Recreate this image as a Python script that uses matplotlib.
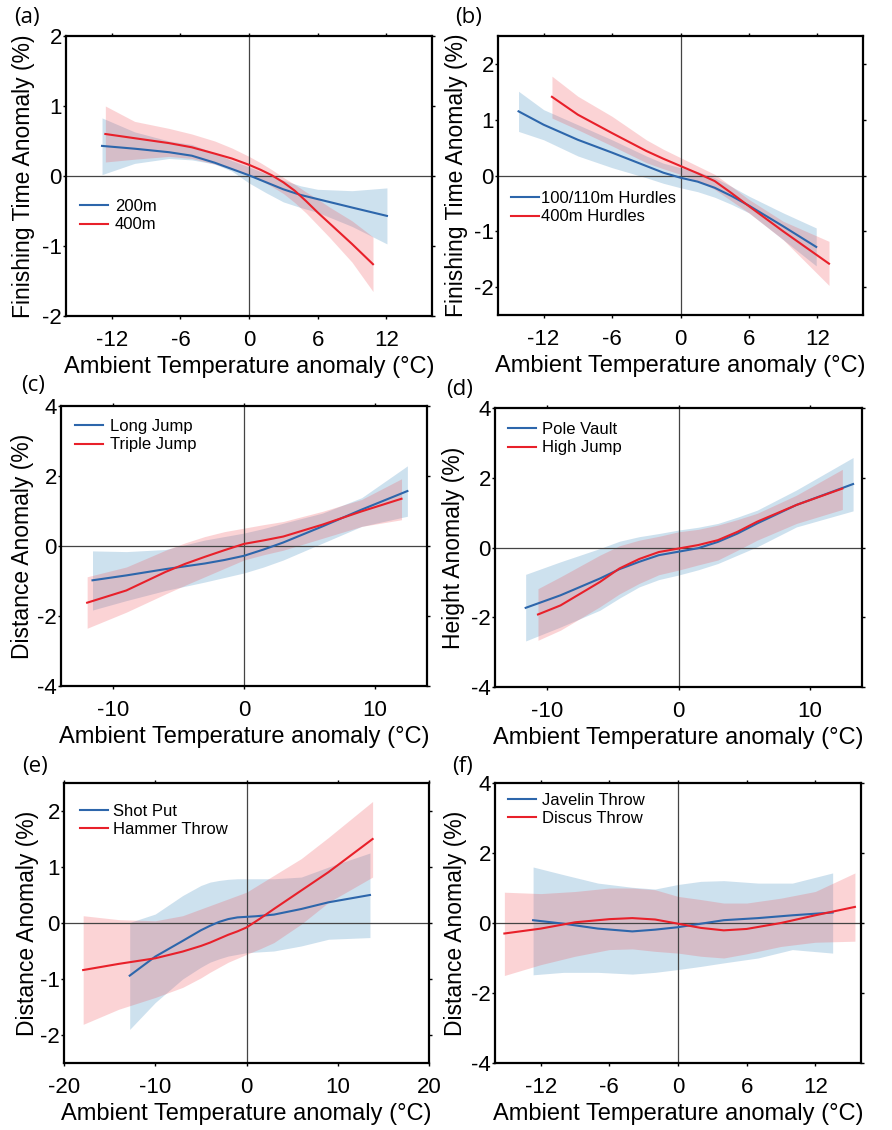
import numpy as np
import matplotlib.pyplot as plt

plt.rcParams['font.family'] = ['Liberation Sans', 'DejaVu Sans']
plt.rcParams['axes.unicode_minus'] = False

BLUE = '#2d66ab'
RED = '#e8202a'
BLUE_FILL = '#1f77b4'
RED_FILL = '#f0525a'

# (a) sprint
a_x1 = [-12.85, -10, -7, -5, -3, -1.5, 0, 1.5, 3, 4.5, 6, 9, 12.06]
a_y1 = [0.43, 0.39, 0.34, 0.29, 0.19, 0.10, 0.01, -0.09, -0.19, -0.27, -0.33, -0.45, -0.57]
a_lo1 = [0.02, 0.18, 0.25, 0.23, 0.17, 0.07, -0.10, -0.24, -0.37, -0.45, -0.52, -0.72, -0.97]
a_hi1 = [0.83, 0.63, 0.50, 0.45, 0.33, 0.22, 0.13, 0.03, -0.06, -0.14, -0.19, -0.21, -0.17]
a_x2 = [-12.56, -10, -7, -5, -3, -1.5, 0, 1, 2, 3, 4, 5, 6, 7, 8, 9, 10.84]
a_y2 = [0.60, 0.54, 0.47, 0.41, 0.32, 0.25, 0.16, 0.09, 0.01, -0.09, -0.21, -0.36, -0.52, -0.67, -0.82, -0.97, -1.26]
a_lo2 = [0.20, 0.24, 0.28, 0.25, 0.17, 0.10, 0.02, -0.06, -0.15, -0.25, -0.38, -0.53, -0.70, -0.87, -1.05, -1.23, -1.65]
a_hi2 = [1.00, 0.78, 0.68, 0.60, 0.50, 0.40, 0.28, 0.19, 0.09, -0.02, -0.12, -0.23, -0.33, -0.44, -0.54, -0.64, -0.87]

# (b) hurdles
b_x1 = [-14.2, -12, -9, -6, -3, -1.5, 0, 1.5, 3, 4.5, 6, 9, 11.9]
b_y1 = [1.15, 0.91, 0.64, 0.41, 0.17, 0.05, -0.04, -0.11, -0.22, -0.37, -0.54, -0.91, -1.28]
b_lo1 = [0.79, 0.64, 0.35, 0.14, -0.04, -0.14, -0.22, -0.29, -0.39, -0.52, -0.67, -1.15, -1.62]
b_hi1 = [1.51, 1.18, 0.91, 0.64, 0.35, 0.22, 0.14, 0.07, -0.04, -0.20, -0.37, -0.67, -0.94]
b_x2 = [-11.27, -9, -6, -3, -1.5, 0, 1.5, 3, 4.5, 6, 9, 13.02]
b_y2 = [1.41, 1.09, 0.76, 0.44, 0.30, 0.17, 0.04, -0.10, -0.32, -0.55, -1.00, -1.58]
b_lo2 = [1.03, 0.82, 0.53, 0.23, 0.12, 0.02, -0.10, -0.25, -0.46, -0.67, -1.15, -1.97]
b_hi2 = [1.78, 1.42, 1.06, 0.64, 0.47, 0.32, 0.17, 0.02, -0.20, -0.43, -0.82, -1.18]

# (c) horizontal jumps
c_x1 = [-11.59, -9, -6, -3, -1.5, 0, 1.5, 3, 6, 9, 12.5]
c_y1 = [-0.98, -0.84, -0.66, -0.50, -0.40, -0.28, -0.10, 0.10, 0.56, 1.04, 1.57]
c_lo1 = [-1.83, -1.56, -1.27, -1.03, -0.90, -0.77, -0.60, -0.40, 0.08, 0.56, 0.85]
c_hi1 = [-0.14, -0.16, -0.10, 0.17, 0.27, 0.37, 0.50, 0.65, 0.94, 1.38, 2.29]
c_x2 = [-12.0, -9, -6, -4.5, -3, -1.5, 0, 1.5, 3, 6, 9, 12.05]
c_y2 = [-1.62, -1.27, -0.74, -0.51, -0.31, -0.12, 0.06, 0.16, 0.27, 0.61, 0.99, 1.35]
c_lo2 = [-2.35, -1.89, -1.37, -1.12, -0.88, -0.64, -0.40, -0.25, -0.12, 0.22, 0.56, 0.75]
c_hi2 = [-0.88, -0.60, -0.12, 0.09, 0.27, 0.41, 0.51, 0.61, 0.70, 0.99, 1.33, 1.92]

# (d) vertical jumps
d_x1 = [-11.66, -9, -6, -4.5, -3, -1.5, 0, 1.5, 3, 4.5, 6, 9, 13.32]
d_y1 = [-1.73, -1.37, -0.89, -0.62, -0.41, -0.22, -0.12, -0.02, 0.16, 0.40, 0.69, 1.22, 1.82]
d_lo1 = [-2.68, -2.28, -1.80, -1.45, -1.13, -0.92, -0.79, -0.64, -0.46, -0.22, 0.02, 0.59, 1.05]
d_hi1 = [-0.77, -0.41, -0.03, 0.18, 0.31, 0.40, 0.50, 0.58, 0.69, 0.87, 1.07, 1.65, 2.58]
d_x2 = [-10.72, -9, -6, -4.5, -3, -1.5, 0, 1.5, 3, 4.5, 6, 9, 12.5]
d_y2 = [-1.92, -1.66, -0.99, -0.60, -0.33, -0.13, -0.03, 0.07, 0.21, 0.45, 0.74, 1.22, 1.69]
d_lo2 = [-2.66, -2.37, -1.70, -1.33, -1.03, -0.78, -0.65, -0.50, -0.36, -0.08, 0.21, 0.69, 1.09]
d_hi2 = [-1.18, -0.84, -0.22, 0.05, 0.21, 0.32, 0.45, 0.52, 0.64, 0.80, 0.98, 1.50, 2.24]

# (e) shot put / hammer
e_x1 = [-12.8, -10, -7, -5, -4, -3, -2, -1, 0, 1, 3, 6, 9, 13.53]
e_y1 = [-0.94, -0.60, -0.32, -0.13, -0.05, 0.02, 0.07, 0.10, 0.11, 0.12, 0.15, 0.25, 0.37, 0.50]
e_lo1 = [-1.90, -1.42, -1.00, -0.79, -0.70, -0.64, -0.59, -0.56, -0.53, -0.52, -0.50, -0.41, -0.29, -0.26]
e_hi1 = [0.01, 0.16, 0.49, 0.67, 0.73, 0.76, 0.78, 0.79, 0.79, 0.79, 0.79, 0.82, 1.00, 1.25]
e_x2 = [-17.9, -14, -10, -7, -5, -4, -3, -2, -1, 0, 1.5, 3, 6, 9, 13.82]
e_y2 = [-0.84, -0.73, -0.63, -0.51, -0.41, -0.35, -0.28, -0.21, -0.15, -0.08, 0.08, 0.25, 0.58, 0.91, 1.50]
e_lo2 = [-1.81, -1.54, -1.33, -1.15, -0.98, -0.88, -0.79, -0.70, -0.63, -0.56, -0.46, -0.35, -0.02, 0.37, 0.82]
e_hi2 = [0.13, 0.06, 0.04, 0.13, 0.25, 0.31, 0.37, 0.43, 0.49, 0.55, 0.70, 0.85, 1.15, 1.53, 2.17]

# (f) javelin / discus
f_x1 = [-12.67, -10, -7, -4, -2, 0, 2, 4, 7, 10, 13.52]
f_y1 = [0.08, -0.02, -0.16, -0.24, -0.19, -0.12, -0.02, 0.08, 0.14, 0.22, 0.30]
f_lo1 = [-1.48, -1.41, -1.41, -1.46, -1.41, -1.33, -1.24, -1.14, -1.00, -0.76, -0.86]
f_hi1 = [1.60, 1.38, 1.14, 1.02, 0.97, 1.10, 1.19, 1.21, 1.14, 1.14, 1.43]
f_x2 = [-15.18, -12, -9, -6, -4, -2, 0, 2, 4, 6, 9, 12, 15.47]
f_y2 = [-0.30, -0.16, 0.02, 0.11, 0.14, 0.10, -0.02, -0.14, -0.21, -0.17, 0.00, 0.22, 0.46]
f_lo2 = [-1.50, -1.19, -0.95, -0.76, -0.74, -0.81, -0.86, -0.95, -1.00, -0.88, -0.67, -0.55, -0.52]
f_hi2 = [0.88, 0.84, 0.90, 1.00, 1.00, 0.95, 0.76, 0.67, 0.57, 0.57, 0.71, 0.90, 1.43]

panels = [
    ('(a)', 'Finishing Time Anomaly (%)', ('200m', '400m'),
     (a_x1, a_y1, a_lo1, a_hi1), (a_x2, a_y2, a_lo2, a_hi2),
     (-16, 16), [-12, -6, 0, 6, 12], (-2, 2), [-2, -1, 0, 1, 2]),
    ('(b)', 'Finishing Time Anomaly (%)', ('100/110m Hurdles', '400m Hurdles'),
     (b_x1, b_y1, b_lo1, b_hi1), (b_x2, b_y2, b_lo2, b_hi2),
     (-16, 16), [-12, -6, 0, 6, 12], (-2.5, 2.5), [-2, -1, 0, 1, 2]),
    ('(c)', 'Distance Anomaly (%)', ('Long Jump', 'Triple Jump'),
     (c_x1, c_y1, c_lo1, c_hi1), (c_x2, c_y2, c_lo2, c_hi2),
     (-14, 14), [-10, 0, 10], (-4, 4), [-4, -2, 0, 2, 4]),
    ('(d)', 'Height Anomaly (%)', ('Pole Vault', 'High Jump'),
     (d_x1, d_y1, d_lo1, d_hi1), (d_x2, d_y2, d_lo2, d_hi2),
     (-14, 14), [-10, 0, 10], (-4, 4), [-4, -2, 0, 2, 4]),
    ('(e)', 'Distance Anomaly (%)', ('Shot Put', 'Hammer Throw'),
     (e_x1, e_y1, e_lo1, e_hi1), (e_x2, e_y2, e_lo2, e_hi2),
     (-20, 20), [-20, -10, 0, 10, 20], (-2.5, 2.5), [-2, -1, 0, 1, 2]),
    ('(f)', 'Distance Anomaly (%)', ('Javelin Throw', 'Discus Throw'),
     (f_x1, f_y1, f_lo1, f_hi1), (f_x2, f_y2, f_lo2, f_hi2),
     (-16, 16), [-12, -6, 0, 6, 12], (-4, 4), [-4, -2, 0, 2, 4]),
]

# layout in pixels
boxes = [(66, 36, 432, 316), (498, 36, 863, 315),
         (61, 406, 427, 686), (495, 408, 862, 687),
         (64, 783, 429, 1063), (495, 783, 861, 1063)]
tags = [(14, 7), (455, 7), (21, 375), (446, 379), (22, 756), (452, 756)]
ylab_x = [35, 468, 34, 465, 39, 467]
leg_at = [(80, 199), (511, 191), (75, 419), (508, 422), (80, 804), (508, 793)]
leg_pad = [0.4, 0.1, 0.4, 0.35, 0.3, 0.35]

W, H = 892, 1130
fig = plt.figure(figsize=(W / 100, H / 100), dpi=100)

for i, (tag, ylab, names, s1, s2, xl, xt, yl, yt) in enumerate(panels):
    l, t, r, b = boxes[i]
    ax = fig.add_axes([l / W, 1 - b / H, (r - l) / W, (b - t) / H])
    x1, y1, lo1, hi1 = s1
    x2, y2, lo2, hi2 = s2
    ax.fill_between(x1, lo1, hi1, color=BLUE_FILL, alpha=0.22, lw=0)
    ax.fill_between(x2, lo2, hi2, color=RED_FILL, alpha=0.25, lw=0)
    ax.axhline(0, color='#444444', lw=0.9, zorder=1)
    ax.axvline(0, color='#444444', lw=0.9, zorder=1)
    ax.plot(x1, y1, color=BLUE, lw=1.5, label=names[0])
    ax.plot(x2, y2, color=RED, lw=1.5, label=names[1])
    ax.set_xlim(*xl)
    ax.set_ylim(*yl)
    ax.set_xticks(xt)
    ax.set_yticks(yt)
    ax.tick_params(axis='both', labelsize=16, length=2, width=1, direction='out',
                   top=True, right=True)
    ax.tick_params(axis='x', pad=8)
    ax.tick_params(axis='y', pad=1)
    for sp in ax.spines.values():
        sp.set_linewidth(1.6)
    ax.set_xlabel('Ambient Temperature anomaly (°C)', fontsize=17, labelpad=4)
    ax.set_ylabel(ylab, fontsize=16.5)
    ax.yaxis.set_label_coords((ylab_x[i] - l) / (r - l), 0.5)
    lx, ly = leg_at[i]
    ax.legend(loc='upper left', bbox_to_anchor=((lx - l) / (r - l), (b - ly) / (b - t)),
              borderaxespad=0, borderpad=0, frameon=False, fontsize=12,
              handlelength=1.7, handletextpad=leg_pad[i], labelspacing=0.2)
    fig.text(tags[i][0] / W, 1 - tags[i][1] / H, tag, fontsize=16, family='Open Sans',
             ha='left', va='top')

fig.savefig('out.png', dpi=100)
